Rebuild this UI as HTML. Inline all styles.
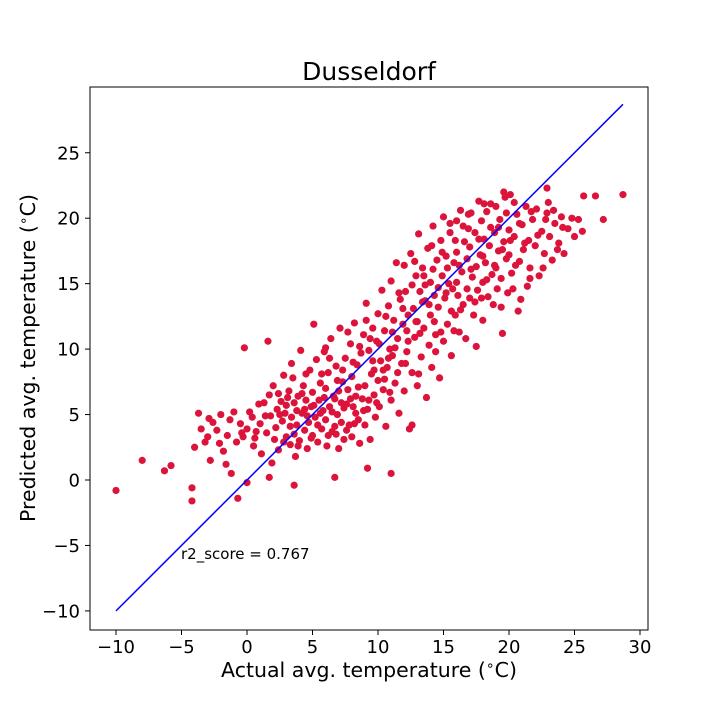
<!DOCTYPE html>
<html><head><meta charset="utf-8"><style>
html,body{margin:0;padding:0;background:#fff}
svg{display:block;font-family:"DejaVu Sans","Liberation Sans",sans-serif}
</style></head><body>
<svg id="chart" width="720" height="720">
<rect width="720" height="720" fill="#fff"/>
<g id="pts"></g>
<line id="fit" stroke="#0000ff" stroke-width="1.5"/>
<rect x="90" y="87" width="558" height="543" fill="none" stroke="#000" stroke-width="1"/>
<g id="xt"></g>
<g id="yt"></g>
<text x="369" y="80" font-size="25" text-anchor="middle">Dusseldorf</text>
<text x="369" y="677" font-size="20.5" text-anchor="middle">Actual avg. temperature (<tspan font-size="14" dy="-7">∘</tspan><tspan dy="7">C)</tspan></text>
<text transform="translate(35,358) rotate(-90)" font-size="20.5" text-anchor="middle">Predicted avg. temperature (<tspan font-size="14" dy="-7">∘</tspan><tspan dy="7">C)</tspan></text>
<text x="181" y="559" font-size="15">r2_score = 0.767</text>
</svg>
<script>
const xTicks=[-10,-5,0,5,10,15,20,25,30];
const yTicks=[-10,-5,0,5,10,15,20,25];
const lineEnds=[-10,28.7];
const actual=[];const predicted=[];
const pairs=[[-10,-0.8],[-8,1.5],[-6.3,0.7],[-5.8,1.1],[-4.2,-0.6],[-4.2,-1.6],[-4,2.5],[-0.7,-1.4],[-0.2,10.1],[1.6,10.6],[0,-0.2],[-3.7,5.1],[28.7,21.8],[27.2,19.9],[26.6,21.7],[25.7,21.7],[22.9,22.3],[23.7,17.6],[21.6,15.4],[17.5,10.2],[12.6,4.2],[11,0.5],[9.2,0.9],[6.7,0.2],[3.6,-0.4],[1.7,0.2],
[-3.5,3.9],[-3.2,2.9],[-3,3.3],[-2.8,1.5],[-2.6,4.4],[-2.3,3.8],[-2,5],[-1.8,2.2],[-1.5,3.4],[-1.2,0.5],[-1,5.2],[-0.8,2.9],[-0.5,4.3],[-0.3,3.3],[0,3.9],[0.2,5.2],[0.4,4.8],[0.5,2.6],[0.7,3.7],[0.9,5.8],[-2.9,4.7],[-1.6,1.2],
[1,4.3],[1.1,2],[1.3,5.9],[1.5,3.6],[1.7,6.5],[1.8,4.9],[2,7.2],[2.1,3.1],[2.3,5.4],[2.4,2.3],[2.6,6],[2.7,4.5],[2.8,8],[3,5.7],[3,3.3],[3.2,6.8],[3.3,2.7],[3.4,4.8],[3.5,7.8],[3.6,5.9],[3.7,1.8],[3.8,4.2],[3.9,6.4],[4,3],[4.1,9.9],[4.2,5.1],[4.3,7.2],[4.4,3.8],[4.5,6.1],[4.6,2.4],[4.7,4.4],[4.8,8.4],[4.9,5.6],[3.1,6.3],[2.5,5],[1.9,1.3],[3.6,3.5],[4.4,5.4],
[5,3.4],[5,6.7],[5.1,11.9],[5.2,4.8],[5.3,9.2],[5.4,2.9],[5.5,6.1],[5.6,7.4],[5.7,3.9],[5.8,5.3],[5.9,9.8],[6,4.6],[6,7],[6.1,2.6],[6.2,8.2],[6.3,5.6],[6.4,10.8],[6.5,3.7],[6.6,6.4],[6.7,4.1],[6.8,8.7],[6.9,5],[7,2.4],[7,6.8],[7.1,11.6],[7.2,4.4],[7.3,7.5],[7.4,3.1],[7.5,9.3],[7.6,5.8],[7.7,6.9],[7.8,4.2],[7.9,10.4],[8,7.9],[8,3.3],[8.1,5.6],[8.2,12],[8.3,6.4],[8.4,8.8],[8.5,4.6],[8.6,2.8],[8.7,9.7],[8.8,6.2],[8.9,11.1],[5.6,5.1],[6.7,6.2],[7.4,5.5],[8.3,5.1],
[9,4.2],[9,7.2],[9.1,13.5],[9.2,5.4],[9.3,9.9],[9.4,3.1],[9.5,8.1],[9.6,11.6],[9.7,6.5],[9.8,4.8],[9.9,10.6],[10,7.6],[10,12.7],[10.1,5.6],[10.2,9.1],[10.3,14.5],[10.4,6.9],[10.5,11.4],[10.6,4.1],[10.7,8.6],[10.8,13.3],[10.9,10],[11,6.1],[11,15.2],[11.1,9.5],[11.2,12.2],[11.3,7.4],[11.4,16.6],[11.5,10.8],[11.6,5.1],[11.7,13.8],[11.8,8.9],[11.9,11.9],[12,16.4],[12,6.8],[12.1,14.4],[12.2,9.8],[12.3,12.6],[12.4,3.9],[12.5,17.3],[12.6,8.2],[12.7,13.1],[12.8,10.9],[12.9,15.6],[9.6,9.1],[10.4,8.4],[11.3,10.1],[12.2,11.4],
[13,7.2],[13,12.1],[13.1,18.8],[13.2,14.4],[13.3,9.4],[13.4,16.2],[13.5,11.6],[13.6,13.7],[13.7,6.3],[13.8,17.7],[13.9,10.3],[14,15.1],[14,12.6],[14.1,8.6],[14.2,19.4],[14.3,14.1],[14.4,11.1],[14.5,16.8],[14.6,13.2],[14.7,7.8],[14.8,18.3],[14.9,15.6],[15,10.6],[15,20.1],[15.1,13.9],[15.2,17.1],[15.3,11.9],[15.4,15],[15.5,18.9],[15.6,9.5],[15.7,14.6],[15.8,16.6],[15.9,12.6],[16,19.8],[16,17.4],[16.1,14.1],[16.2,11.3],[16.3,20.6],[16.4,15.9],[16.5,13.4],[16.6,18.2],[16.7,10.8],[16.8,16.9],[16.9,19.2],[13.6,14.9],[14.3,12.1],[15.2,14.3],[16,15.1],
[17,13.9],[17,17.8],[17.1,20.4],[17.2,15.5],[17.3,12.6],[17.4,18.9],[17.5,16.3],[17.6,14.5],[17.7,21.3],[17.8,17.2],[17.9,19.8],[18,15.1],[18,12.2],[18.1,18.4],[18.2,16.6],[18.3,20.5],[18.4,14],[18.5,17.9],[18.6,19.3],[18.7,15.7],[18.8,13.4],[18.9,18.9],[19,16.2],[19,20.9],[19.1,14.6],[19.2,17.5],[19.3,19.9],[19.4,15.4],[19.5,11.2],[19.6,18.2],[19.7,21.6],[19.8,16.9],[19.9,14.3],[20,19.1],[20,17.2],[20.1,21.8],[20.2,15.8],[20.4,18.6],[20.6,20.3],[20.8,16.7],[20.9,13.8],
[21,19.5],[21.1,17.6],[21.3,20.9],[21.5,18.3],[21.6,16.2],[21.8,19.9],[22,17.9],[22.1,20.7],[22.3,15.6],[22.5,19],[22.7,17.3],[22.9,20.4],[23.1,18.6],[23.3,16.8],[23.5,19.6],[23.8,18.1],[24,20.1],[24.2,17.3],[24.5,19.2],[24.8,20],[25,18.6],[25.3,19.9],[25.6,19],[21.4,14.8],[22.6,16.2],[20.7,12.9],[23,21.2],
[2.2,4],[2.9,5.1],[3.3,4.1],[3.8,5.3],[4.2,6.6],[4.6,4.9],[5.1,5.7],[5.4,4.2],[5.9,6.3],[6.2,3.4],[6.5,5.2],[6.9,7.6],[7.2,5.9],[7.6,3.8],[7.9,6.2],[8.2,4.3],[8.5,7.1],[8.9,5.3],[9.3,6.1],[9.7,8.4],[10.1,10.4],[10.5,7.7],[10.8,9.3],[11.1,11.3],[11.5,8.2],[11.9,13.1],[12.3,10.6],[12.6,14.9],[12.9,12.1],[13.2,11.2],[13.5,15.6],[13.9,13.4],[14.2,16.1],[14.6,14.7],[14.9,17.4],[15.3,16.2],[15.6,12.9],[15.9,18.3],[16.2,16.4],[16.5,19.4],[16.8,14.6],[17.1,16.1],[17.4,13.6],[17.7,18.4],[18,17.1],[18.3,15.3],[18.6,21.1],[18.9,16.4],[19.2,19.3],[19.5,17.6],[19.8,20.4],[20.1,18.3],[20.5,16.4],[20.8,19.6],[21.2,18.1],[21.7,20.5],[22.2,18.7],[22.8,19.9],[23.4,20.6],[24.1,19.3],[1.4,4.9],[0.6,3.2],[-0.4,3.6],[-1.3,4.6],[-2.1,2.8],[2.8,2.9],[3.9,2.6],[5.7,8.1],[6.3,9.3],[7.3,8.4],[8.6,10.2],[9.1,12.2],[4.9,3.2],[6.8,3.5],[9.9,5.9],[10.9,6.7],[12.1,8.9],[13.1,8.1],[14.4,9.8],[15.8,11.4],[17.9,13.9],[19.4,13.2],[20.3,14.6],[11.6,14.3],[12.8,16.7],[14.1,17.9],[15.5,19.6],[16.9,20.3],[18.1,21.1],[19.6,22],[20.4,21.2],[13.4,13.6],[14.8,11.3],[16.3,13],[2.4,6.6],[3.4,8.9],[4.5,8.1],[6,10.1],[7.7,11.3],[8.1,9],[9.4,10.8],[10.6,12.5]];
pairs.forEach(p=>{actual.push(p[0]);predicted.push(p[1]);});
const xs=v=>247+v*13.1;
const ys=v=>480-v*13.09;
const NS='http://www.w3.org/2000/svg';
const pts=document.getElementById('pts');
for(let i=0;i<actual.length;i++){
  const c=document.createElementNS(NS,'circle');
  c.setAttribute('cx',xs(actual[i]));c.setAttribute('cy',ys(predicted[i]));
  c.setAttribute('r',3.6);c.setAttribute('fill','#dc143c');
  
  
  pts.appendChild(c);
}
const fl=document.getElementById('fit');
fl.setAttribute('x1',xs(lineEnds[0]));fl.setAttribute('y1',ys(lineEnds[0]));
fl.setAttribute('x2',xs(lineEnds[1]));fl.setAttribute('y2',ys(lineEnds[1]));
const xt=document.getElementById('xt');
xTicks.forEach(t=>{
  const x=xs(t);
  const l=document.createElementNS(NS,'line');
  l.setAttribute('x1',x);l.setAttribute('x2',x);l.setAttribute('y1',630);l.setAttribute('y2',635);l.setAttribute('stroke','#000');
  
  
  xt.appendChild(l);
  const tx=document.createElementNS(NS,'text');
  tx.setAttribute('x',x);tx.setAttribute('y',653);tx.setAttribute('font-size','18');tx.setAttribute('text-anchor','middle');
  tx.textContent=(t<0?'\u2212'+(-t):''+t);
  
  
  xt.appendChild(tx);
});
const yt=document.getElementById('yt');
yTicks.forEach(t=>{
  const y=ys(t);
  const l=document.createElementNS(NS,'line');
  l.setAttribute('x1',85);l.setAttribute('x2',90);l.setAttribute('y1',y);l.setAttribute('y2',y);l.setAttribute('stroke','#000');
  
  
  yt.appendChild(l);
  const tx=document.createElementNS(NS,'text');
  tx.setAttribute('x',80);tx.setAttribute('y',y+6.5);tx.setAttribute('font-size','18');tx.setAttribute('text-anchor','end');
  tx.textContent=(t<0?'\u2212'+(-t):''+t);
  
  
  yt.appendChild(tx);
});
</script>
</body></html>
